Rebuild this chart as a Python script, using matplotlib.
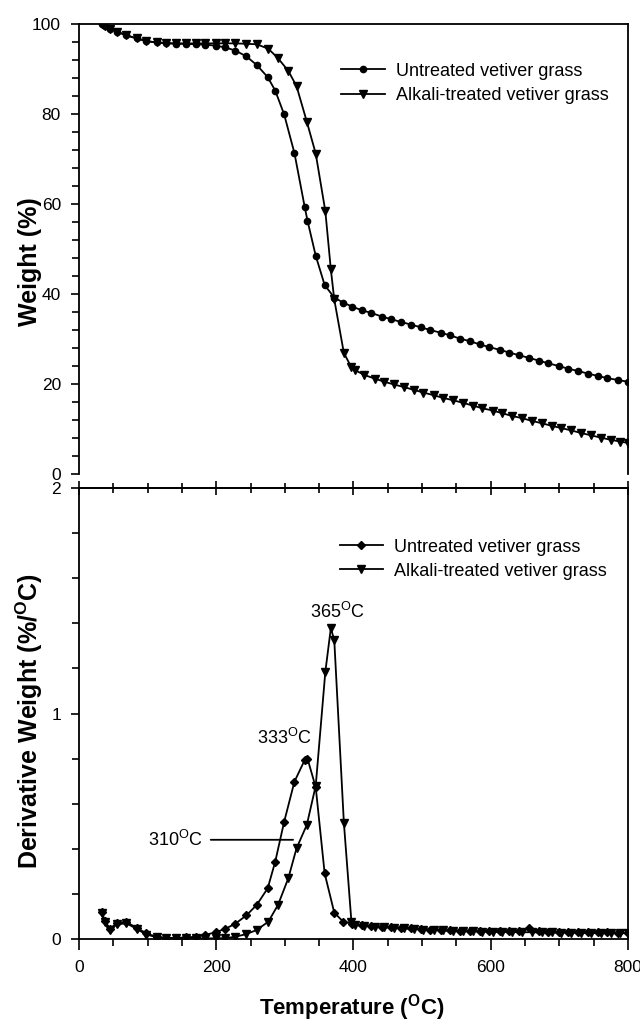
import matplotlib
matplotlib.use("Agg")
import matplotlib.pyplot as plt
from matplotlib.ticker import MultipleLocator

plt.rcParams['font.family'] = ['Liberation Sans', 'DejaVu Sans']
plt.rcParams['mathtext.default'] = 'regular'

# Untreated vetiver grass (temperature, weight %, derivative weight %/C)
temp_untreated = [33, 38, 45, 55, 69, 84, 98, 113, 127, 141, 156, 170, 184, 199, 213, 228, 244, 259, 275, 286,
                  299, 314, 329, 333, 345, 358, 372, 385, 398, 412, 426, 441, 455, 469, 484, 498, 512, 527, 541,
                  555, 570, 584, 598, 613, 627, 641, 656, 670, 684, 699, 713, 727, 742, 756, 770, 785, 800]
weight_untreated = [100.0, 99.6, 99.0, 98.3, 97.5, 96.8, 96.2, 95.9, 95.7, 95.6, 95.6, 95.5, 95.4, 95.2, 94.8,
                    94.1, 92.8, 90.9, 88.2, 85.2, 79.9, 71.3, 59.3, 56.3, 48.5, 42.0, 39.2, 38.1, 37.2, 36.4,
                    35.8, 35.0, 34.4, 33.8, 33.2, 32.6, 32.0, 31.4, 30.8, 30.1, 29.5, 28.8, 28.2, 27.6, 27.0,
                    26.4, 25.8, 25.2, 24.6, 24.0, 23.4, 22.9, 22.3, 21.8, 21.3, 20.9, 20.5]
deriv_untreated = [0.12, 0.08, 0.045, 0.07, 0.075, 0.05, 0.025, 0.01, 0.005, 0.005, 0.007, 0.01, 0.018, 0.03,
                   0.045, 0.068, 0.105, 0.151, 0.225, 0.343, 0.52, 0.698, 0.794, 0.80, 0.673, 0.291, 0.117,
                   0.077, 0.068, 0.062, 0.058, 0.055, 0.052, 0.05, 0.047, 0.045, 0.042, 0.04, 0.038, 0.037,
                   0.036, 0.035, 0.035, 0.034, 0.034, 0.036, 0.048, 0.037, 0.033, 0.032, 0.031, 0.03, 0.03,
                   0.029, 0.029, 0.028, 0.028]

# Alkali-treated vetiver grass
temp_alkali = [33, 38, 45, 55, 69, 84, 98, 113, 127, 141, 156, 170, 184, 199, 213, 228, 244, 259, 276, 290,
               305, 317, 332, 345, 359, 367, 372, 386, 397, 402, 416, 431, 445, 459, 474, 488, 502, 517, 531,
               545, 560, 574, 588, 603, 617, 631, 646, 660, 674, 689, 703, 717, 732, 746, 760, 775, 789, 800]
weight_alkali = [100.0, 99.6, 99.0, 98.3, 97.5, 96.8, 96.2, 95.9, 95.8, 95.7, 95.7, 95.7, 95.7, 95.7, 95.7,
                 95.7, 95.6, 95.5, 94.5, 92.4, 89.6, 86.2, 78.3, 71.2, 58.4, 45.5, 38.8, 26.9, 23.7, 23.1,
                 22.0, 21.2, 20.5, 19.9, 19.3, 18.7, 18.1, 17.5, 16.9, 16.4, 15.8, 15.2, 14.6, 14.1, 13.5,
                 12.9, 12.4, 11.8, 11.3, 10.7, 10.2, 9.7, 9.1, 8.6, 8.1, 7.6, 7.2, 6.9]
deriv_alkali = [0.115, 0.075, 0.04, 0.065, 0.07, 0.045, 0.02, 0.008, 0.004, 0.003, 0.003, 0.003, 0.003, 0.003,
                0.004, 0.01, 0.022, 0.04, 0.077, 0.151, 0.269, 0.402, 0.506, 0.68, 1.185, 1.378, 1.326, 0.516,
                0.077, 0.062, 0.058, 0.055, 0.052, 0.05, 0.047, 0.045, 0.042, 0.04, 0.038, 0.036, 0.035,
                0.034, 0.033, 0.032, 0.031, 0.031, 0.03, 0.03, 0.029, 0.029, 0.028, 0.028, 0.027, 0.027,
                0.026, 0.026, 0.026, 0.025]

labels = ["Untreated vetiver grass", "Alkali-treated vetiver grass"]

fig = plt.figure(figsize=(6.4, 10.22), dpi=100)
ax1 = fig.add_axes([0.1234, 0.5362, 0.8578, 0.4403])
ax2 = fig.add_axes([0.1234, 0.0812, 0.8578, 0.4413])

# Top panel: weight loss
ax1.plot(temp_untreated, weight_untreated, color='black', lw=1.3, marker='o', ms=4.5, label=labels[0])
ax1.plot(temp_alkali, weight_alkali, color='black', lw=1.3, marker='v', ms=5.5, label=labels[1])
ax1.set_xlim(0, 800)
ax1.set_ylim(0, 100)
ax1.spines['bottom'].set_visible(False)
ax1.set_xticks([])
ax1.yaxis.set_major_locator(MultipleLocator(20))
ax1.yaxis.set_minor_locator(MultipleLocator(4))
ax1.tick_params(axis='y', which='major', direction='out', length=6, width=1.2, labelsize=12.5, pad=7)
ax1.tick_params(axis='y', which='minor', direction='out', length=5, width=1.2)
ax1.set_ylabel("Weight (%)", fontsize=18, fontweight='bold')
ax1.yaxis.set_label_coords(-0.068, 0.473)
ax1.legend(loc='upper left', bbox_to_anchor=(0.478, 0.914), frameon=False, fontsize=13,
           handlelength=2.4, handletextpad=0.6, labelspacing=0.4, borderpad=0, borderaxespad=0)

# Bottom panel: derivative weight
ax2.plot(temp_untreated, deriv_untreated, color='black', lw=1.3, marker='D', ms=4, label=labels[0])
ax2.plot(temp_alkali, deriv_alkali, color='black', lw=1.3, marker='v', ms=5.5, label=labels[1])
ax2.set_xlim(0, 800)
ax2.set_ylim(0, 2)
ax2.xaxis.set_major_locator(MultipleLocator(200))
ax2.xaxis.set_minor_locator(MultipleLocator(50))
ax2.yaxis.set_major_locator(MultipleLocator(1))
ax2.yaxis.set_minor_locator(MultipleLocator(0.2))
ax2.tick_params(axis='x', which='major', direction='out', length=8, width=1.2, labelsize=12.5, pad=7)
ax2.tick_params(axis='x', which='minor', direction='out', length=5, width=1.2)
ax2.tick_params(axis='y', which='major', direction='out', length=6, width=1.2, labelsize=12.5, pad=7)
ax2.tick_params(axis='y', which='minor', direction='out', length=5, width=1.2)

top = ax2.secondary_xaxis('top')
top.xaxis.set_major_locator(MultipleLocator(200))
top.xaxis.set_minor_locator(MultipleLocator(50))
top.tick_params(which='major', direction='inout', length=10, width=1.2, labeltop=False)
top.tick_params(which='minor', direction='inout', length=7, width=1.2)

ax2.set_xlabel("Temperature ($^{O}$C)", fontsize=16, fontweight='bold')
ax2.xaxis.set_label_coords(0.497, -0.118)
ax2.set_ylabel("Derivative Weight (%/$^{O}$C)", fontsize=18, fontweight='bold')
ax2.yaxis.set_label_coords(-0.062, 0.483)
ax2.legend(loc='upper left', bbox_to_anchor=(0.475, 0.888), frameon=False, fontsize=13,
           handlelength=2.4, handletextpad=0.6, labelspacing=0.4, borderpad=0, borderaxespad=0)

ax2.text(300, 0.89, "333$^{O}$C", fontsize=13, ha='center', va='center')
ax2.text(377, 1.45, "365$^{O}$C", fontsize=13, ha='center', va='center')
ax2.annotate("310$^{O}$C", xy=(312, 0.44), xytext=(140, 0.44), fontsize=13, ha='center', va='center',
             arrowprops=dict(arrowstyle='-', color='black', lw=1.3, shrinkA=4, shrinkB=0))

for ax in (ax1, ax2):
    for s in ax.spines.values():
        s.set_linewidth(1.3)
top.spines['top'].set_linewidth(1.3)

fig.savefig("out.png", dpi=100)
